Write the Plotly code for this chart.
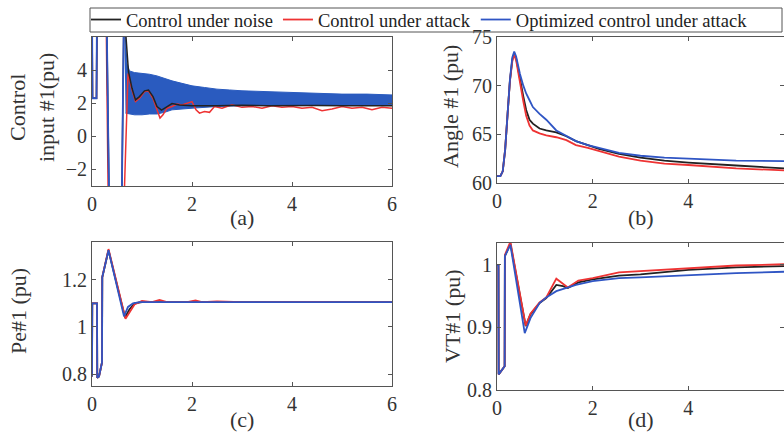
import plotly.graph_objects as go

# ---------------- data ----------------
legend_names = ["Control under noise", "Control under attack", "Optimized control under attack"]
x_ticks = [0, 2, 4, 6]

# (a) Control input #1
ta_black = [0, 0.01, 0.09, 0.10, 0.29, 0.36, 0.58, 0.64, 0.68, 0.73, 0.80, 0.87, 0.95, 1.05, 1.13, 1.22,
            1.30, 1.39, 1.48, 1.60, 1.75, 2.0, 2.5, 3.0, 3.5, 4.0, 4.5, 5.0, 5.5, 6.0]
ya_black = [8, 2.3, 2.3, 8, 8, -8, -8, 8, 6.0, 3.9, 2.9, 2.2, 2.4, 2.75, 2.8, 2.4,
            1.8, 1.58, 1.75, 1.98, 1.9, 1.85, 1.85, 1.88, 1.85, 1.87, 1.86, 1.85, 1.84, 1.85]
ta_red = [0, 0.01, 0.09, 0.10, 0.28, 0.34, 0.60, 0.72, 0.80, 0.87, 0.95, 1.05, 1.13, 1.22, 1.30, 1.36,
          1.42, 1.50, 1.60, 1.70, 1.80, 1.90, 2.00, 2.08, 2.15, 2.25, 2.35, 2.45, 2.6, 2.8, 3.0, 3.2,
          3.4, 3.6, 3.8, 4.0, 4.2, 4.4, 4.6, 4.8, 5.0, 5.2, 5.4, 5.6, 5.8, 6.0]
ya_red = [8, 2.3, 2.3, 8, 8, -8, -8, 3.8, 2.8, 2.1, 2.3, 2.7, 2.75, 2.3, 1.6, 1.1,
          1.3, 1.7, 1.8, 1.95, 1.9, 2.0, 2.1, 1.6, 1.4, 1.5, 1.45, 1.8, 1.7, 1.9, 1.75, 1.8,
          1.7, 1.85, 1.75, 1.8, 1.7, 1.75, 1.55, 1.65, 1.8, 1.7, 1.75, 1.6, 1.75, 1.7]
ta_blue = [0, 0.01, 0.09, 0.10, 0.29, 0.36, 0.58, 0.64]
ya_blue = [8, 2.3, 2.3, 8, 8, -8, -8, 8]
# envelope of the noisy optimized-control band
ta_band_up = [0.64, 0.66, 0.70, 0.75, 0.85, 1.0, 1.15, 1.3, 1.45, 1.6, 1.8, 2.0, 2.25, 2.5, 2.75,
              3.0, 3.5, 4.0, 4.5, 5.0, 5.5, 6.0]
ya_band_up = [8, 6.2, 4.4, 3.95, 3.85, 3.8, 3.75, 3.65, 3.5, 3.35, 3.2, 3.05, 2.95, 2.85, 2.8,
              2.75, 2.7, 2.65, 2.6, 2.55, 2.55, 2.5]
ta_band_lo = [6.0, 5.0, 4.0, 3.0, 2.5, 2.0, 1.8, 1.6, 1.45, 1.3, 1.15, 1.0, 0.85, 0.72, 0.67]
ya_band_lo = [1.9, 1.9, 1.9, 1.85, 1.8, 1.7, 1.65, 1.6, 1.45, 1.35, 1.35, 1.3, 1.3, 1.35, 1.4]

# (b) Angle #1
tb = [0, 0.07, 0.12, 0.17, 0.22, 0.27, 0.32, 0.36, 0.40, 0.48, 0.55, 0.61, 0.68, 0.75, 0.89,
      1.03, 1.24, 1.45, 1.65, 1.9, 2.13, 2.55, 3.0, 3.5, 4.0, 5.0, 6.0]
yb_black = [60.7, 60.7, 61.2, 63.4, 67.0, 70.5, 72.7, 73.3, 72.8, 70.6, 68.9, 67.5, 66.5, 66.1, 65.6,
            65.4, 65.2, 64.8, 64.3, 63.9, 63.5, 63.0, 62.6, 62.3, 62.1, 61.8, 61.5]
yb_red = [60.7, 60.7, 61.2, 63.4, 67.0, 70.5, 72.5, 73.2, 72.6, 70.2, 68.4, 66.9, 65.9, 65.4, 65.1,
          64.9, 64.7, 64.4, 63.9, 63.6, 63.3, 62.7, 62.3, 62.0, 61.85, 61.5, 61.3]
yb_blue = [60.7, 60.7, 61.2, 63.4, 67.0, 70.6, 72.9, 73.5, 73.0, 71.2, 70.0, 69.2, 68.5, 67.8, 67.1,
           66.5, 65.4, 64.8, 64.3, 63.9, 63.6, 63.1, 62.8, 62.6, 62.5, 62.3, 62.25]

# (c) Pe#1
tc_blue = [0, 0.005, 0.10, 0.105, 0.14, 0.20, 0.205, 0.33, 0.64, 0.72, 0.82, 0.95, 1.5, 2.0, 3.0, 4.0, 5.0, 6.0]
yc_blue = [0.79, 1.10, 1.10, 0.785, 0.79, 0.85, 1.21, 1.325, 1.045, 1.085, 1.10, 1.105, 1.105, 1.105,
           1.105, 1.105, 1.105, 1.105]
tc_black = [0, 0.005, 0.10, 0.105, 0.14, 0.20, 0.205, 0.33, 0.66, 0.75, 0.85, 1.0, 2.0, 3.0, 4.0, 5.0, 6.0]
yc_black = [0.79, 1.10, 1.10, 0.785, 0.79, 0.85, 1.21, 1.325, 1.04, 1.075, 1.10, 1.105, 1.105, 1.105,
            1.105, 1.105, 1.105]
tc_red = [0, 0.005, 0.10, 0.105, 0.14, 0.20, 0.205, 0.33, 0.67, 0.75, 0.85, 1.0, 1.2, 1.35, 1.5, 1.9,
          2.07, 2.2, 2.5, 3.0, 3.5, 4.0, 4.5, 5.0, 5.5, 6.0]
yc_red = [0.79, 1.10, 1.10, 0.785, 0.79, 0.85, 1.21, 1.33, 1.035, 1.06, 1.095, 1.11, 1.105, 1.115, 1.105,
          1.105, 1.112, 1.105, 1.108, 1.105, 1.106, 1.105, 1.106, 1.105, 1.105, 1.105]

# (d) VT#1
td_blue = [0, 0.03, 0.035, 0.16, 0.165, 0.28, 0.58, 0.7, 0.89, 1.03, 1.24, 1.45, 1.65, 2.0, 2.55,
           3.0, 4.0, 5.0, 6.0]
yd_blue = [1.0, 1.0, 0.825, 0.838, 1.014, 1.032, 0.891, 0.915, 0.939, 0.948, 0.958, 0.963, 0.968,
           0.974, 0.979, 0.980, 0.984, 0.987, 0.989]
td = [0, 0.03, 0.035, 0.16, 0.165, 0.28, 0.60, 0.7, 0.89, 1.03, 1.24, 1.38, 1.48, 1.7, 2.0, 2.55,
      3.0, 4.0, 5.0, 6.0]
yd_black = [1.0, 1.0, 0.825, 0.838, 1.014, 1.034, 0.902, 0.921, 0.939, 0.947, 0.968, 0.966, 0.963,
            0.972, 0.977, 0.983, 0.985, 0.992, 0.996, 0.998]
yd_red = [1.0, 1.0, 0.825, 0.838, 1.016, 1.037, 0.903, 0.922, 0.940, 0.948, 0.978, 0.970, 0.964,
          0.975, 0.979, 0.988, 0.990, 0.995, 0.999, 1.001]

# ---------------- styling ----------------
BLACK = "#222222"
RED = "#ee3333"
BLUE = "#2f55c4"
BAND = "#2a5bbf"
FONT = "Liberation Serif"
W, H = 784, 435

fig = go.Figure()

def line(x, y, color, ax, name=None, show=False, width=1.8):
    fig.add_trace(go.Scatter(x=x, y=y, mode="lines", line=dict(color=color, width=width),
                             xaxis="x" + ax, yaxis="y" + ax, name=name, showlegend=show,
                             hoverinfo="skip"))

# (a)
fig.add_trace(go.Scatter(x=ta_band_up + ta_band_lo, y=ya_band_up + ya_band_lo, mode="lines",
                         fill="toself", fillcolor=BAND, line=dict(color=BAND, width=1),
                         xaxis="x", yaxis="y", showlegend=False, hoverinfo="skip"))
line(ta_red, ya_red, RED, "", width=1.5)
line(ta_black, ya_black, BLACK, "", width=1.5)
line(ta_blue, ya_blue, BLUE, "")
# (b)
line(tb, yb_black, BLACK, "2", legend_names[0], True)
line(tb, yb_red, RED, "2", legend_names[1], True)
line(tb, yb_blue, BLUE, "2", legend_names[2], True)
# (c)
line(tc_black, yc_black, BLACK, "3")
line(tc_red, yc_red, RED, "3")
line(tc_blue, yc_blue, BLUE, "3")
# (d)
line(td, yd_black, BLACK, "4")
line(td, yd_red, RED, "4")
line(td_blue, yd_blue, BLUE, "4")

def px_x(a, b):
    return [a / W, min(b / W, 1.0)]

def px_y(top, bottom):
    return [(H - bottom) / H, (H - top) / H]

def axis(domain, rng, tickvals, ticktext=None, anchor=None):
    d = dict(domain=domain, range=rng, tickvals=tickvals, ticks="inside", ticklen=4,
             tickcolor="#555555", showline=True, linecolor="#555555", linewidth=1, mirror="ticks",
             showgrid=False, zeroline=False, automargin=False,
             tickfont=dict(family=FONT, size=20, color="#333333"), anchor=anchor)
    if ticktext is not None:
        d["ticktext"] = ticktext
    return d

fig.update_layout(
    width=W, height=H, margin=dict(l=0, r=0, t=0, b=0, pad=0, autoexpand=False),
    paper_bgcolor="white", plot_bgcolor="white",
    xaxis=axis(px_x(92, 392), [0, 6], x_ticks, anchor="y"),
    yaxis=axis(px_y(37, 186), [-3, 6], [-2, 0, 2, 4], anchor="x"),
    xaxis2=axis(px_x(497, 785), [0, 6], x_ticks, anchor="y2"),
    yaxis2=axis(px_y(37, 183), [60, 75], [60, 65, 70, 75], anchor="x2"),
    xaxis3=axis(px_x(92, 392), [0, 6], x_ticks, anchor="y3"),
    yaxis3=axis(px_y(242, 386), [0.75, 1.36], [0.8, 1, 1.2], ["0.8", "1", "1.2"], anchor="x3"),
    xaxis4=axis(px_x(497, 785), [0, 6], x_ticks, anchor="y4"),
    yaxis4=axis(px_y(243, 390), [0.8, 1.035], [0.8, 0.9, 1], ["0.8", "0.9", "1"], anchor="x4"),
    legend=dict(orientation="h", x=86 / W, xanchor="left", y=(H - 20) / H, yanchor="middle",
                font=dict(family=FONT, size=18.5, color="#222222"), bgcolor="rgba(0,0,0,0)",
                borderwidth=0, itemwidth=30, tracegroupgap=0),
    shapes=[dict(type="rect", xref="paper", yref="paper", x0=90 / W, x1=782 / W,
                 y0=(H - 32) / H, y1=(H - 8) / H, line=dict(color="#555555", width=1))],
)

annots = [
    ("Control<br>input #1(pu)", 32, 107, -90),
    ("Angle #1 (pu)", 450, 107, -90),
    ("Pe#1 (pu)", 18, 311, -90),
    ("VT#1 (pu)", 452, 317, -90),
    ("(a)", 242, 218, 0),
    ("(b)", 641, 218, 0),
    ("(c)", 242, 419, 0),
    ("(d)", 641, 419, 0),
]
for text, x, y, ang in annots:
    fig.add_annotation(text=text, x=x / W, y=(H - y) / H, xref="paper", yref="paper",
                       xanchor="center", yanchor="middle", textangle=ang, showarrow=False,
                       font=dict(family=FONT, size=22, color="#333333"))

fig.write_html("out.html", config={"displayModeBar": False},
               post_script="document.body.style.margin='0';document.body.style.padding='0';")
